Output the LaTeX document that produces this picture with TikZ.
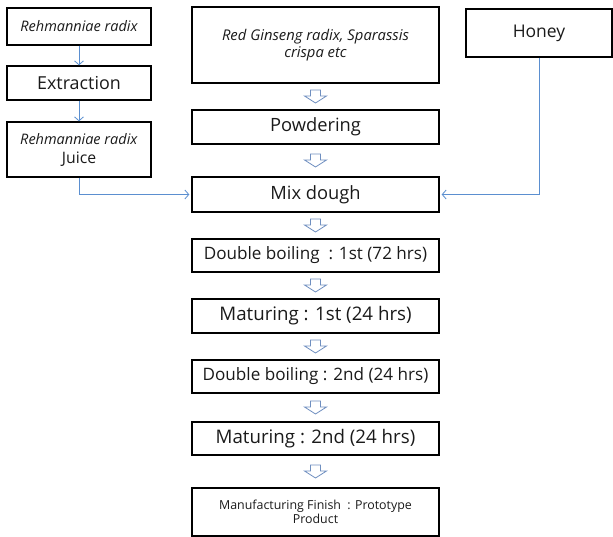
\documentclass[tikz,border=0pt]{standalone}
\usepackage{fontspec}
\setmainfont{Open Sans}
\usetikzlibrary{arrows.meta,calc}
\definecolor{flow}{HTML}{5B8FD0}
\definecolor{harrc}{HTML}{6F8FC0}
\definecolor{txt}{HTML}{1A1A1A}
\tikzset{
  box/.style={draw=black,line width=1.3pt,inner sep=0pt,align=center,text=txt},
  big/.style={font=\fontsize{18.3}{21}\selectfont},
  ital/.style={font=\fontsize{14.5}{17}\selectfont\itshape},
  feed/.style={draw=flow,line width=0.8pt,-{Straight Barb[length=4pt,width=9pt]}},
  harr/.pic={\draw[harrc,line width=0.8pt,fill=white,line join=miter]
     (-5,-6.5) -- (5,-6.5) -- (5,-0.5) -- (11,-0.5) -- (0,6.5) -- (-11,-0.5) -- (-5,-0.5) -- cycle;}
}
\begin{document}
\begin{tikzpicture}[x=1pt,y=-1pt]
\useasboundingbox (0,0) rectangle (613,537);
% left column
\node[box,ital,minimum width=144pt,minimum height=37pt] (rr) at (79,26.5) {Rehmanniae radix};
\node[box,big,minimum width=144pt,minimum height=34pt,font=\fontsize{17.9}{21}\selectfont] (ext) at (79,83) {Extraction};
\node[box,minimum width=144pt,minimum height=55pt,font=\fontsize{14.5}{19}\selectfont] (juice) at (79,149.5) {\textit{Rehmanniae radix}\\{\fontsize{15.8}{19}\selectfont Juice}};
% right
\node[box,minimum width=146pt,minimum height=48pt,font=\fontsize{17.5}{21}\selectfont] (honey) at (539,33) {Honey};
% center column
\node[box,minimum width=247pt,minimum height=76pt,font=\fontsize{14.8}{17}\selectfont\itshape] (rg) at (315.5,45) {Red Ginseng radix, Sparassis\\crispa etc};
\node[box,big,minimum width=247pt,minimum height=34pt] (pow) at (315.5,127) {Powdering};
\node[box,big,minimum width=247pt,minimum height=35pt] (mix) at (315.5,194.5) {Mix dough};
\node[box,minimum width=247pt,minimum height=33pt,font=\fontsize{17.1}{20}\selectfont] (db1) at (315.5,255.5) {Double boiling\ \ : 1st (72 hrs)};
\node[box,big,minimum width=247pt,minimum height=34pt,font=\fontsize{18.7}{21}\selectfont] (mat1) at (315.5,316) {Maturing\ : 1st (24 hrs)};
\node[box,minimum width=247pt,minimum height=33pt,font=\fontsize{17.1}{20}\selectfont] (db2) at (315.5,376.5) {Double boiling : 2nd (24 hrs)};
\node[box,big,minimum width=247pt,minimum height=33pt,font=\fontsize{18.7}{21}\selectfont] (mat2) at (315.5,438.5) {Maturing\ : 2nd (24 hrs)};
\node[box,minimum width=247pt,minimum height=48pt,font=\fontsize{12.4}{14}\selectfont] (fin) at (315.5,512) {Manufacturing\ Finish\ \ : Prototype\\Product};
% thin connectors
\draw[feed] (rr.south) -- (ext.north);
\draw[feed] (ext.south) -- (juice.north);
\draw[feed,shorten >=2pt] (juice.south) |- (mix.west);
\draw[feed,shorten >=2pt] (honey.south) |- (mix.east);
% hollow arrows
\pic at ($(rg.south)!0.5!(pow.north)$) {harr};
\pic at ($(pow.south)!0.5!(mix.north)$) {harr};
\pic at ($(mix.south)!0.5!(db1.north)$) {harr};
\pic at ($(db1.south)!0.5!(mat1.north)$) {harr};
\pic at ($(mat1.south)!0.5!(db2.north)$) {harr};
\pic at ($(db2.south)!0.5!(mat2.north)$) {harr};
\pic at ($(mat2.south)!0.5!(fin.north)$) {harr};
\end{tikzpicture}
\end{document}
